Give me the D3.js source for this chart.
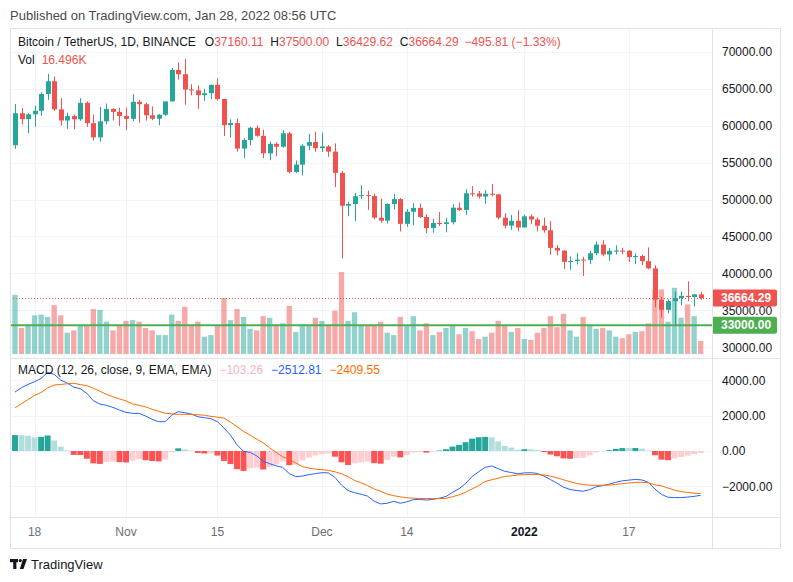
<!DOCTYPE html>
<html><head><meta charset="utf-8">
<script src="https://cdn.jsdelivr.net/npm/d3@7"></script>
<style>
body{margin:0;background:#fff;}
svg{display:block;font-family:"Liberation Sans","DejaVu Sans",Arial,sans-serif;}
</style>
</head><body>
<svg id="c" width="793" height="582"></svg>
<script>
// ---------- DATA (BTC/USDT daily, Binance, 2021-10-15 .. 2022-01-28) ----------
const opens = [
57348,61672,60876,61528,62006,64281,66001,62193,60688,61287,
60852,63079,60329,58413,60576,62254,61859,61300,60911,63221,
62896,61395,60940,61471,63274,67526,66948,64882,64774,64122,
64380,65519,63607,60059,60345,56892,58057,59708,58618,56244,
57541,57138,58960,53724,54716,57275,57776,56951,57184,56484,
53601,49152,49396,50442,50589,50471,47536,47141,49390,50054,
46703,48337,48865,47632,46134,46834,46681,46914,48888,48588,
50839,50820,50400,50775,50701,47544,46465,47121,46217,47723,
47286,46446,45832,43451,43082,41566,41680,41865,41822,42729,
43903,42558,43060,43084,43072,42202,42352,41660,40681,36445,
35071,36245,36660,36958,36807,37160.11];
const highs = [
62933,62378,61718,62696,64486,67000,66640,63732,61748,61500,
63711,63293,61496,62499,62980,62359,62405,62438,64270,63500,
63086,62596,61560,63286,67789,68524,69000,65600,65451,65000,
65551,66402,63617,60840,60976,58320,59845,60030,59444,57876,
57735,59399,59150,55280,57445,58866,59177,59054,57375,57600,
53859,49699,50891,51936,51200,50798,50125,49486,50777,50190,
48700,49500,49436,47996,47392,48300,47538,49329,49576,51375,
51810,51156,51280,52088,50704,48139,47900,48548,47955,47990,
47570,47558,47070,43816,43146,42300,42787,42249,43100,44322,
44500,43449,43800,43475,43176,42691,42559,43505,41100,36835,
36499,37550,37545,38920,37234,37500.00];
const lows = [
56850,60150,58963,59844,61322,63481,62000,60000,59562,59511,
60650,59818,58000,57820,60175,60673,59945,59405,60625,60383,
60677,60721,60050,61323,63274,66222,62823,64100,62278,63360,
63576,63400,58574,58373,56474,55600,57353,58487,55610,55317,
55837,57000,53500,53610,53257,56667,56476,56458,55778,51680,
42000,47727,47100,50040,48600,47320,46852,46751,48638,45673,
46290,46547,47511,45456,45500,46407,45559,46630,48422,47920,
50384,50142,49412,50449,47313,46097,45900,45678,46208,46654,
45696,45500,42500,42431,40610,40501,41200,39650,41269,42450,
42311,41726,42555,42582,41540,41250,41139,40553,35440,34008,
34601,32917,35701,36235,35507,36429.62];
const closes = [
61672,60876,61528,62010,64281,66001,62193,60688,61287,60852,
63079,60329,58413,60576,62254,61859,61300,60911,63220,62896,
61395,60937,61471,63274,67526,66948,64882,64774,64122,64380,
65519,63607,60059,60345,56892,58052,59708,58622,56247,57541,
57138,58960,53727,54721,57275,57776,56951,57184,56480,53601,
49152,49396,50442,50589,50471,47546,47141,49390,50054,46703,
48343,48865,47632,46131,46834,46681,46914,48890,48588,50839,
50820,50400,50775,50701,47544,46465,47121,46217,47723,47286,
46446,45832,43451,43082,41566,41680,41865,41822,42729,43903,
42560,43060,43084,43072,42202,42352,41660,40681,36445,35071,
36245,36660,36958,36809,37160.10,36664.29];
// volume, thousands of BTC
const volumes = [
75,33,36,49,50,47,62,49,27,30,
36,36,57,56,41,30,36,42,43,41,
33,30,24,24,50,42,60,36,41,22,
24,36,71,43,57,47,32,30,48,46,
37,39,61,28,36,37,46,42,36,55,
104,42,53,36,36,36,41,27,24,47,
36,48,30,39,24,28,33,36,25,33,
29,19,22,27,42,37,28,33,19,18,
27,33,48,34,51,30,22,47,36,32,
33,30,22,20,25,28,29,39,82,82,
41,84,46,63,48,16.496];
const macdLine = [
3340,3585,3774,3925,4113,4453,4340,4019,3850,3620,
3528,3264,2849,2660,2585,2472,2321,2189,2132,2132,
1981,1792,1660,1660,2038,2226,2170,2094,1943,1887,
1830,1660,1300,900,350,-20,-80,-270,-580,-720,
-840,-930,-1280,-1450,-1420,-1340,-1280,-1230,-1240,-1500,
-1930,-2240,-2360,-2450,-2560,-2840,-3000,-2960,-2850,-2960,
-2880,-2755,-2740,-2780,-2740,-2670,-2580,-2340,-2140,-1840,
-1450,-1180,-925,-850,-1000,-1150,-1220,-1290,-1240,-1230,
-1270,-1420,-1620,-1820,-2050,-2180,-2240,-2280,-2190,-2030,
-1960,-1880,-1770,-1690,-1650,-1610,-1640,-1770,-2160,-2460,
-2620,-2640,-2640,-2610,-2570,-2512.81];
const signalLine = [
2440,2685,2914,3155,3313,3573,3740,3769,3810,3840,
3758,3704,3549,3390,3205,3072,2951,2839,2672,2592,
2501,2362,2250,2140,2108,2076,2080,2074,2053,2027,
1960,1920,1860,1640,1380,1110,900,670,470,180,
-80,-330,-480,-680,-880,-970,-1030,-1055,-1100,-1180,
-1290,-1450,-1670,-1800,-1960,-2150,-2280,-2450,-2530,-2600,
-2650,-2675,-2690,-2690,-2700,-2700,-2680,-2590,-2490,-2340,
-2150,-1960,-1725,-1630,-1540,-1440,-1410,-1360,-1340,-1325,
-1330,-1360,-1420,-1520,-1630,-1740,-1840,-1900,-1940,-1950,
-1940,-1930,-1890,-1855,-1810,-1780,-1775,-1800,-1920,-1970,
-2100,-2220,-2300,-2350,-2390,-2409.55];
const macdHist = [
900,900,860,770,800,880,600,250,40,-220,
-230,-440,-700,-730,-620,-600,-630,-650,-540,-460,
-520,-570,-590,-480,-70,150,90,20,-110,-140,
-130,-260,-560,-740,-1030,-1130,-980,-940,-1050,-900,
-760,-600,-800,-770,-540,-370,-250,-175,-140,-320,
-640,-790,-690,-650,-600,-690,-720,-510,-320,-360,
-230,-80,-50,-90,-40,30,100,250,350,500,
700,780,800,780,540,290,190,70,100,95,
60,-60,-200,-300,-420,-440,-400,-380,-250,-80,
-20,50,120,165,160,170,135,30,-240,-490,
-520,-420,-340,-260,-180,-103.26];
const priceTicks = [30000,35000,40000,45000,50000,55000,60000,65000,70000];
const macdTicks = [-2000,0,2000,4000];
const timeTickDates = ["2021-10-18","2021-11-01","2021-11-15","2021-12-01","2021-12-14","2022-01-01","2022-01-17"];
const timeTickLabels = ["18","Nov","15","Dec","14","2022","17"];
const lastPrice = 36664.29;
const supportLevel = 33000;

// ---------- LAYOUT ----------
const L=10, R=712, AX=781, T=28, PB=358, MB=517, FB=549;
const UP="#26a69a", DN="#ef5350";
const svg=d3.select("#c");

const dates=d3.timeDay.range(new Date(2021,9,15),new Date(2022,0,29));
const fmt=d3.timeFormat("%Y-%m-%d");
const keys=dates.map(fmt);
const step=6.53, x0=15-step/2;
const x=d3.scaleBand().domain(keys).range([x0,x0+step*keys.length]).padding(0);
const cx=k=>x(k)+x.bandwidth()/2;
const y=d3.scaleLinear().domain([30000,70000]).range([347.3,51.7]);
const yv=d3.scaleLinear().domain([0,100]).range([354,275.2]);
const ym=d3.scaleLinear().domain([-2000,4000]).range([486.3,380.4]);

const data=keys.map((k,i)=>({k,o:opens[i],h:highs[i],l:lows[i],c:closes[i],v:volumes[i],
  m:macdLine[i],s:signalLine[i],hist:macdHist[i]}));

// header
svg.append("text").attr("x",10).attr("y",20).attr("font-size",13).attr("fill","#4a4a4a")
  .text("Published on TradingView.com, Jan 28, 2022 08:56 UTC");

// frame
svg.append("rect").attr("x",L+0.5).attr("y",T+0.5).attr("width",AX-L-1).attr("height",FB-T-1)
  .attr("fill","#fff").attr("stroke","#e0e3eb");

const defs=svg.append("defs");
defs.append("clipPath").attr("id","cp").append("rect").attr("x",L+1).attr("y",T+1).attr("width",R-L-1).attr("height",PB-T-1);
defs.append("clipPath").attr("id","cm").append("rect").attr("x",L+1).attr("y",PB+1).attr("width",R-L-1).attr("height",MB-PB-1);

// grid
const grid=svg.append("g").attr("stroke","#f0f3fa").attr("stroke-width",1);
timeTickDates.forEach(k=>{
  grid.append("line").attr("x1",Math.round(cx(k))+0.5).attr("x2",Math.round(cx(k))+0.5).attr("y1",T+1).attr("y2",MB);
});
priceTicks.forEach(v=>{
  grid.append("line").attr("x1",L+1).attr("x2",R).attr("y1",Math.round(y(v))+0.5).attr("y2",Math.round(y(v))+0.5);
});
macdTicks.forEach(v=>{
  grid.append("line").attr("x1",L+1).attr("x2",R).attr("y1",Math.round(ym(v))+0.5).attr("y2",Math.round(ym(v))+0.5);
});

// separators
svg.append("line").attr("x1",L).attr("x2",AX).attr("y1",PB+0.5).attr("y2",PB+0.5).attr("stroke","#e0e3eb");
svg.append("line").attr("x1",L).attr("x2",AX).attr("y1",MB+0.5).attr("y2",MB+0.5).attr("stroke","#e0e3eb");
svg.append("line").attr("x1",R+0.5).attr("x2",R+0.5).attr("y1",T).attr("y2",FB).attr("stroke","#e0e3eb");

// price pane
const gp=svg.append("g").attr("clip-path","url(#cp)");
const bw=x.bandwidth();
gp.append("g").selectAll("rect").data(data).join("rect")
  .attr("x",d=>x(d.k)+0.6).attr("width",bw-1.2)
  .attr("y",d=>yv(d.v)).attr("height",d=>yv(0)-yv(d.v))
  .attr("fill",d=>d.c>=d.o?"rgba(38,166,154,0.5)":"rgba(239,83,80,0.5)");
gp.append("line").attr("x1",L).attr("x2",R).attr("y1",y(supportLevel)).attr("y2",y(supportLevel))
  .attr("stroke","#4caf50").attr("stroke-width",2);
gp.append("line").attr("x1",L).attr("x2",R).attr("y1",Math.round(y(lastPrice))+0.5).attr("y2",Math.round(y(lastPrice))+0.5)
  .attr("stroke",DN).attr("stroke-width",1).attr("stroke-dasharray","1,2");
const cg=gp.append("g");
cg.selectAll("line").data(data).join("line")
  .attr("x1",d=>Math.round(cx(d.k))+0.5).attr("x2",d=>Math.round(cx(d.k))+0.5)
  .attr("y1",d=>y(d.h)).attr("y2",d=>y(d.l))
  .attr("stroke",d=>d.c>=d.o?UP:DN).attr("stroke-width",1);
cg.selectAll("rect").data(data).join("rect")
  .attr("x",d=>Math.round(cx(d.k))+0.5-2.5).attr("width",5)
  .attr("y",d=>y(Math.max(d.o,d.c))).attr("height",d=>Math.max(1,Math.abs(y(d.o)-y(d.c))))
  .attr("fill",d=>d.c>=d.o?UP:DN);

// price axis
const pa=svg.append("g").attr("transform",`translate(${R},0)`)
  .call(d3.axisRight(y).tickValues(priceTicks).tickSize(0).tickPadding(10).tickFormat(d=>d.toFixed(2)));
pa.select(".domain").remove();
pa.selectAll("text").attr("font-size",12).attr("fill","#131722").attr("font-family","Liberation Sans, DejaVu Sans, sans-serif");

function tag(v,color,txt){
  const yy=y(v);
  svg.append("path").attr("d",`M${R+1},${yy-8.5} H${AX-6} q2,0 2,2 V${yy+6.5} q0,2 -2,2 H${R+1} Z`).attr("fill",color);
  svg.append("text").attr("x",R+9).attr("y",yy+4.3).attr("font-size",12).attr("fill","#fff").attr("font-weight","bold").text(txt);
}
tag(lastPrice,DN,lastPrice.toFixed(2));
tag(supportLevel,"#4caf50",supportLevel.toFixed(2));

// legend price pane (flowed text)
const last=data[data.length-1], prev=data[data.length-2];
const lg=svg.append("text").attr("x",18).attr("y",46).attr("font-size",12).attr("fill","#131722");
lg.append("tspan").text("Bitcoin / TetherUS, 1D, BINANCE");
[["O",last.o],["H",last.h],["L",last.l],["C",last.c]].forEach(([a,v],i)=>{
  lg.append("tspan").attr("dx",i===0?9:7).text(a);
  lg.append("tspan").attr("fill",DN).text(v.toFixed(2));
});
const chg=last.c-prev.c;
lg.append("tspan").attr("dx",6).attr("fill",DN)
  .text(`${chg<0?"−":"+"}${Math.abs(chg).toFixed(2)} (${chg<0?"−":"+"}${Math.abs(chg/prev.c*100).toFixed(2)}%)`);
svg.append("text").attr("x",18).attr("y",64).attr("font-size",12).attr("fill","#131722")
  .call(t=>{t.append("tspan").text("Vol");t.append("tspan").attr("dx",7).attr("fill",DN).text(last.v.toFixed(3)+"K");});

// MACD pane
const gm=svg.append("g").attr("clip-path","url(#cm)");
gm.append("g").selectAll("rect").data(data).join("rect")
  .attr("x",d=>x(d.k)+0.3).attr("width",bw-0.6)
  .attr("y",d=>Math.min(ym(0),ym(d.hist))).attr("height",d=>Math.abs(ym(d.hist)-ym(0)))
  .attr("fill",(d,i)=>{
    const p=i>0?data[i-1].hist:d.hist;
    if(d.hist>=0) return (i===0||d.hist>p)?"#26a69a":"#b2dfdb";
    return (i>0&&d.hist<p)?"#ff5252":"#ffcdd2";
  });
gm.append("path").datum(data).attr("fill","none").attr("stroke","#2962ff").attr("stroke-width",1)
  .attr("d",d3.line().x(d=>cx(d.k)).y(d=>ym(d.m)));
gm.append("path").datum(data).attr("fill","none").attr("stroke","#ff6d00").attr("stroke-width",1)
  .attr("d",d3.line().x(d=>cx(d.k)).y(d=>ym(d.s)));

const ma=svg.append("g").attr("transform",`translate(${R},0)`)
  .call(d3.axisRight(ym).tickValues(macdTicks).tickSize(0).tickPadding(10)
    .tickFormat(d=>(d<0?"−":"")+Math.abs(d).toFixed(2)));
ma.select(".domain").remove();
ma.selectAll("text").attr("font-size",12).attr("fill","#131722").attr("font-family","Liberation Sans, DejaVu Sans, sans-serif");

const mf=v=>(v<0?"−":"")+Math.abs(v).toFixed(2);
const ml=svg.append("text").attr("x",18).attr("y",374).attr("font-size",12).attr("fill","#131722");
ml.append("tspan").text("MACD (12, 26, close, 9, EMA, EMA)");
ml.append("tspan").attr("dx",8).attr("fill","#f7b3bd").text(mf(last.hist));
ml.append("tspan").attr("dx",8).attr("fill","#2962ff").text(mf(last.m));
ml.append("tspan").attr("dx",8).attr("fill","#ff6d00").text(mf(last.s));

// time axis
const lab={}; timeTickDates.forEach((k,i)=>lab[k]=timeTickLabels[i]);
const ta=svg.append("g").attr("transform",`translate(0,${MB})`)
  .call(d3.axisBottom(x).tickValues(timeTickDates).tickSize(0).tickPadding(10).tickFormat(k=>lab[k]));
ta.select(".domain").remove();
ta.selectAll("text").attr("font-size",12).attr("fill","#6a6d78").attr("font-family","Liberation Sans, DejaVu Sans, sans-serif")
  .filter(k=>lab[k]==="2022").attr("fill","#131722").attr("font-weight","bold");

// footer logo
const lgo=svg.append("g").attr("fill","#131722");
lgo.append("rect").attr("x",10).attr("y",559).attr("width",8).attr("height",3.2);
lgo.append("rect").attr("x",13.2).attr("y",559).attr("width",3.2).attr("height",10);
lgo.append("circle").attr("cx",20.3).attr("cy",560.6).attr("r",1.6);
lgo.append("path").attr("d","M23,559 H27 L23.5,569 H19.8 Z");
svg.append("text").attr("x",31).attr("y",569).attr("font-size",13).attr("fill","#131722").text("TradingView");
</script>
</body></html>
